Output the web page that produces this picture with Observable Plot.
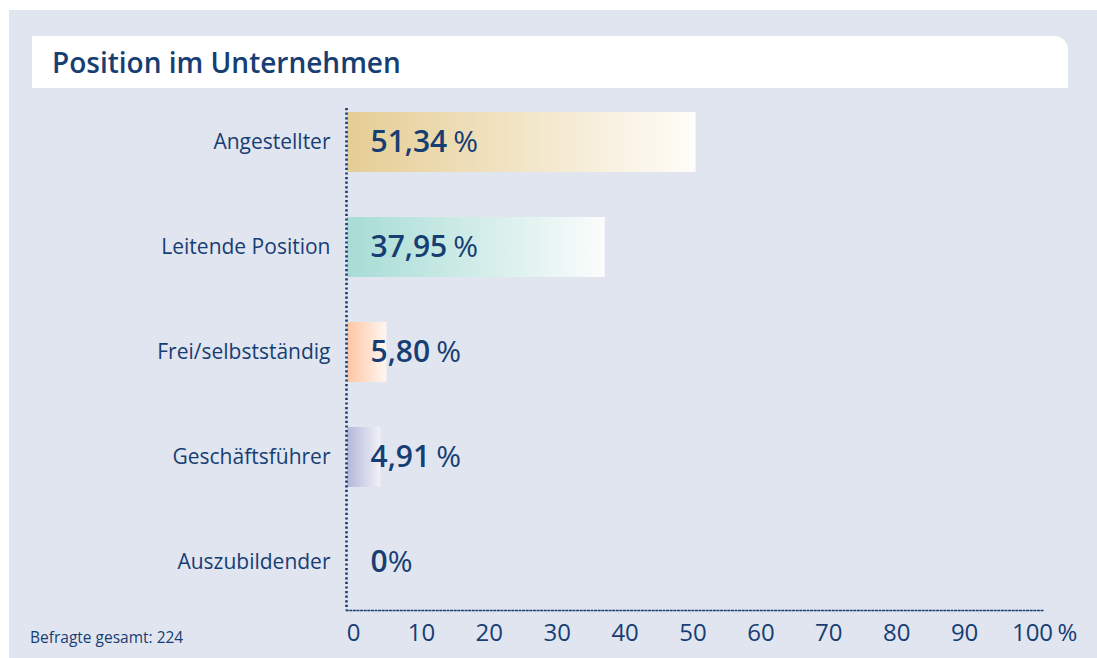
<!DOCTYPE html>
<html><head><meta charset="utf-8">
<script src="https://cdn.jsdelivr.net/npm/d3@7"></script>
<script src="https://cdn.jsdelivr.net/npm/@observablehq/plot@0.6"></script>
<style>
html,body{margin:0;padding:0;background:#fff;width:1097px;height:658px;overflow:hidden;font-family:"Open Sans",sans-serif;}
#panel{position:absolute;left:9px;top:10px;width:1088px;height:648px;background:#e1e5f0;}
#titlebox{position:absolute;left:32px;top:36px;width:1036px;height:52px;background:#fff;border-top-right-radius:14px;}
#titlebox span{position:absolute;left:20px;top:12px;line-height:28px;font-size:28px;font-weight:600;color:#173e73;white-space:nowrap;}
#chart{position:absolute;left:0;top:88px;}
#note{position:absolute;left:30px;top:629px;line-height:16px;font-size:15.5px;color:#173e73;white-space:nowrap;}
</style></head>
<body>
<div id="panel"></div>
<div id="titlebox"><span>Position im Unternehmen</span></div>
<div id="chart"></div>
<div id="note">Befragte gesamt: 224</div>
<script>
const categories = ["Angestellter", "Leitende Position", "Frei/selbstständig", "Geschäftsführer", "Auszubildender"];
const values = [51.34, 37.95, 5.80, 4.91, 0];
const valueLabels = ["51,34 %", "37,95 %", "5,80 %", "4,91 %", "0%"];
const gradStart = ["#e5cd94", "#a7dcd5", "#fdc5a2", "#b3b7d9", "#e1e5f0"];
const gradEnd = ["#fffdf9", "#fbfdfc", "#fff7f1", "#f0f1f8", "#e1e5f0"];
const xTicks = [0, 10, 20, 30, 40, 50, 60, 70, 80, 90, 100];
const unitLabel = ["%"];

const navy = "#173e73";
const data = categories.map((c, i) => ({category: c, value: values[i], label: valueLabels[i], grad: `url(#grad${i})`}));

const svg = Plot.plot({
  width: 1097,
  height: 570,
  marginLeft: 347,
  marginRight: 71,
  marginTop: 0,
  marginBottom: 48,
  style: {color: navy, background: "transparent", fontFamily: "'Open Sans', sans-serif"},
  x: {domain: [0, 100], axis: null},
  y: {domain: categories, range: [0, 528], paddingInner: 0.425, paddingOuter: 0.2125, axis: null},
  color: {type: "identity"},
  marks: [
    Plot.barX(data, {x: "value", y: "category", fill: "grad"}),
    Plot.ruleX([0], {x: d => d, insetTop: 20, dx: -1, stroke: navy, strokeWidth: 2.6, strokeDasharray: "2.2 2.4"}),
    Plot.frame({anchor: "bottom", insetLeft: -1, insetRight: -17, stroke: navy, strokeWidth: 1.6, strokeDasharray: "1.4 2.2"}),
    Plot.axisY({tickSize: 0, tickPadding: 17, fontSize: 21, fill: navy, label: null}),
    Plot.text(data, {x: d => 0, y: "category", text: "label", dx: 23, textAnchor: "start", fontSize: 30, fontWeight: 600, fill: navy}),
    Plot.text(xTicks, {x: d => d, frameAnchor: "bottom", dy: 30, dx: 6, text: d => String(d), fontSize: 24, fill: navy}),
    Plot.text(unitLabel, {x: d => 100, frameAnchor: "bottom", dy: 30, dx: 31, textAnchor: "start", text: d => d, fontSize: 24, fill: navy})
  ]
});

// gradients
const defs = d3.select(svg).insert("defs", ":first-child");
gradStart.forEach((c, i) => {
  const g = defs.append("linearGradient").attr("id", `grad${i}`).attr("x1", 0).attr("x2", 1).attr("y1", 0).attr("y2", 0);
  g.append("stop").attr("offset", "0%").attr("stop-color", c);
  g.append("stop").attr("offset", "100%").attr("stop-color", gradEnd[i]);
});

// lighter percent sign in value labels
d3.select(svg).selectAll("text").each(function() {
  const t = this.textContent;
  if (valueLabels.includes(t)) {
    const m = t.match(/^(.*?)(\s?%)$/);
    if (m) {
      this.textContent = m[1];
      d3.select(this).append("tspan").attr("font-weight", 400)
        .attr("dx", m[2].length > 1 ? 6 : 0).text("%");
    }
  }
});

document.getElementById("chart").appendChild(svg);
</script>
</body></html>
